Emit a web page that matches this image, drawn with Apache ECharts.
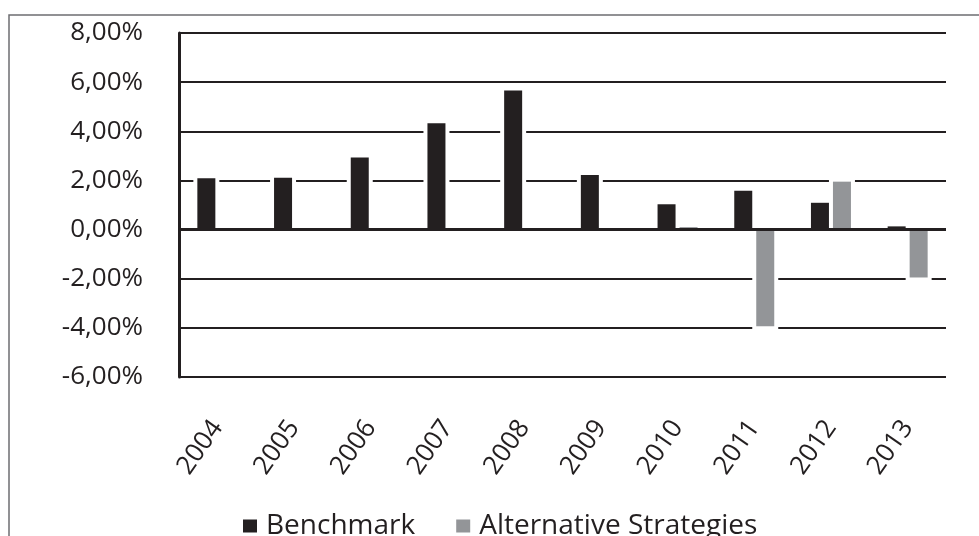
<!DOCTYPE html>
<html>
<head>
<meta charset="utf-8">
<script src="https://cdn.jsdelivr.net/npm/echarts@6/dist/echarts.min.js"></script>
<style>
html,body{margin:0;padding:0;background:#fff;}
#chart{width:979px;height:536px;}
</style>
</head>
<body>
<div id="chart"></div>
<script>
const categories = ['2004','2005','2006','2007','2008','2009','2010','2011','2012','2013'];
const benchmark = [2.09, 2.11, 2.93, 4.33, 5.66, 2.22, 1.03, 1.58, 1.09, 0.13];
const alternative = ['-', '-', '-', '-', '-', '-', 0.10, -3.93, 1.95, -1.95];
const seriesNames = ['Benchmark', 'Alternative Strategies'];

const ink = '#231f20';
const grey = '#939598';
const font = 'Open Sans';
const chart = echarts.init(document.getElementById('chart'), null, {renderer: 'canvas'});

const barW = 18;
const gapPx = 4;
const halo = 4;

function haloData(arr) {
  const out = [];
  arr.forEach((v, i) => { if (typeof v === 'number') out.push([i, v]); });
  return out;
}
function haloRenderer(side) {
  return function (params, api) {
    const i = api.value(0);
    const v = api.value(1);
    const top = api.coord([i, v]);
    const base = api.coord([i, 0]);
    const cx = top[0] + side * (barW + gapPx) / 2;
    const y0 = Math.min(top[1], base[1]) - halo;
    const y1 = Math.max(top[1], base[1]) + halo;
    return {
      type: 'rect',
      shape: {x: cx - barW / 2 - halo, y: y0, width: barW + 2 * halo, height: y1 - y0},
      style: {fill: '#ffffff'},
      silent: true
    };
  };
}

chart.setOption({
  backgroundColor: '#ffffff',
  animation: false,
  graphic: [{
    type: 'rect',
    shape: {x: 9, y: 15, width: 1200, height: 800},
    style: {fill: 'none', stroke: '#6d6e71', lineWidth: 1.5},
    silent: true
  }],
  grid: {left: 179, right: 33, top: 33, bottom: 159, containLabel: false},
  legend: {
    data: seriesNames,
    left: 238,
    top: 507,
    itemWidth: 14,
    itemHeight: 13,
    itemGap: 41,
    icon: 'rect',
    textStyle: {fontFamily: font, fontSize: 28, color: ink, padding: [0, 0, 0, 4]}
  },
  xAxis: {
    type: 'category',
    data: categories,
    axisLine: {show: false, onZero: false},
    axisTick: {show: false},
    axisLabel: {rotate: 55, margin: 46, fontFamily: font, fontSize: 26, color: ink, interval: 0},
    splitLine: {show: false}
  },
  yAxis: {
    type: 'value',
    min: -6, max: 8, interval: 2,
    axisLine: {show: true, lineStyle: {color: ink, width: 3}},
    axisTick: {show: false},
    axisLabel: {
      margin: 36, fontFamily: font, fontSize: 26, color: ink,
      formatter: v => v.toFixed(2).replace('.', ',') + '%'
    },
    splitLine: {show: true, lineStyle: {color: ink, width: 2}}
  },
  series: [
    {
      name: 'halo-b', type: 'custom', data: haloData(benchmark), z: 2, silent: true,
      renderItem: haloRenderer(-1), clip: true
    },
    {
      name: 'halo-a', type: 'custom', data: haloData(alternative), z: 2, silent: true,
      renderItem: haloRenderer(1), clip: true
    },
    {
      name: seriesNames[0], type: 'bar', data: benchmark,
      barWidth: barW, barGap: (gapPx / barW * 100).toFixed(1) + '%', z: 3,
      itemStyle: {color: ink}
    },
    {
      name: seriesNames[1], type: 'bar', data: alternative,
      barWidth: barW, barGap: (gapPx / barW * 100).toFixed(1) + '%', z: 3,
      itemStyle: {color: grey},
      markLine: {
        silent: true, symbol: 'none', z: 6,
        label: {show: false},
        lineStyle: {color: ink, width: 3, type: 'solid'},
        data: [{yAxis: 0}]
      }
    }
  ]
});
</script>
</body>
</html>
